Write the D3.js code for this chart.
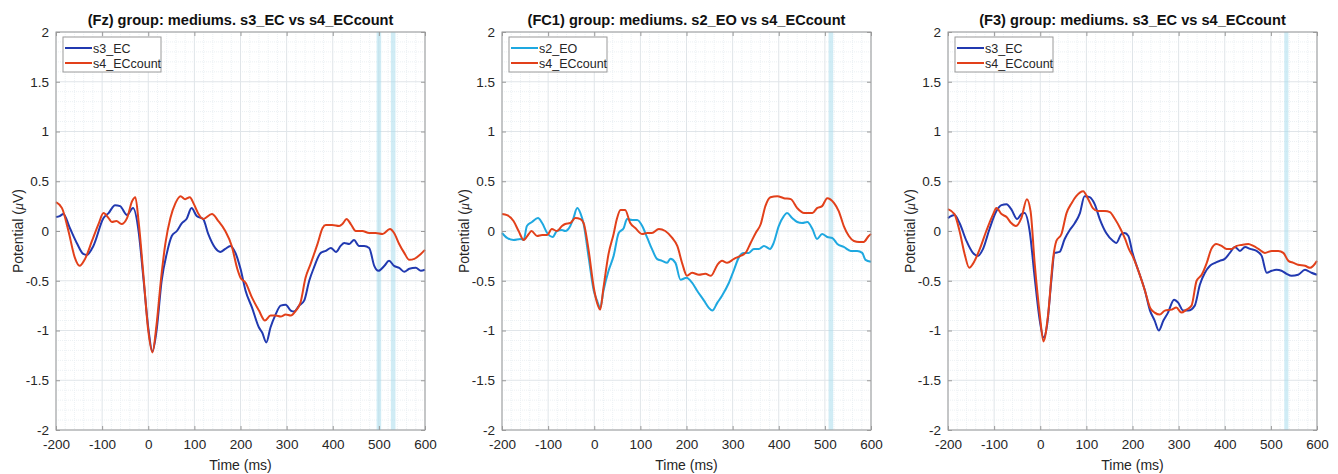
<!DOCTYPE html>
<html>
<head>
<meta charset="utf-8">
<script src="https://cdn.jsdelivr.net/npm/d3@7"></script>
<style>
  body { margin: 0; background: #fff; }
  svg { display: block; font-family: "Liberation Sans", Arial, Helvetica, sans-serif; }
</style>
</head>
<body>
<script>
// time (ms) / potential (uV) pairs
const fzS3EC = [[-200,0.14],[-192,0.15],[-184,0.17],[-170,0.03],[-155,-0.12],[-141,-0.23],[-133,-0.24],[-119,-0.15],[-97,0.13],[-86,0.18],[-72,0.26],[-61,0.25],[-46,0.16],[-33,0.23],[-21,0],[-10,-0.5],[0,-0.97],[9,-1.21],[18,-1.0],[29,-0.5],[40,-0.23],[51,-0.05],[62,0],[73,0.08],[83,0.12],[94,0.23],[105,0.15],[119,0.12],[130,-0.03],[145,-0.17],[156,-0.21],[167,-0.18],[178,-0.15],[189,-0.22],[200,-0.38],[211,-0.6],[225,-0.77],[240,-0.97],[247,-1.02],[256,-1.12],[265,-0.97],[276,-0.84],[287,-0.75],[298,-0.74],[309,-0.8],[316,-0.81],[327,-0.75],[338,-0.7],[349,-0.5],[359,-0.37],[374,-0.22],[385,-0.2],[396,-0.17],[407,-0.21],[417,-0.15],[425,-0.12],[436,-0.13],[446,-0.09],[457,-0.15],[468,-0.15],[479,-0.17],[490,-0.35],[499,-0.4],[512,-0.35],[522,-0.3],[533,-0.35],[544,-0.37],[555,-0.41],[566,-0.38],[580,-0.37],[591,-0.4],[600,-0.39]]
const fzS4ECcount = [[-200,0.29],[-187,0.23],[-173,0],[-159,-0.27],[-149,-0.35],[-137,-0.28],[-122,-0.1],[-107,0.08],[-97,0.18],[-86,0.13],[-79,0.09],[-69,0.1],[-58,0.07],[-46,0.13],[-35,0.3],[-28,0.34],[-21,0.1],[-10,-0.47],[0,-1.0],[9,-1.22],[18,-0.94],[28,-0.47],[37,-0.13],[48,0.13],[59,0.28],[70,0.35],[80,0.32],[90,0.34],[99,0.27],[109,0.17],[119,0.12],[138,0.17],[152,0.1],[167,0],[181,-0.15],[193,-0.38],[200,-0.47],[211,-0.52],[225,-0.67],[240,-0.8],[253,-0.9],[265,-0.85],[276,-0.85],[287,-0.86],[298,-0.84],[309,-0.85],[320,-0.8],[330,-0.72],[341,-0.47],[352,-0.33],[367,-0.13],[378,0.03],[385,0.06],[399,0.06],[414,0.05],[421,0.07],[430,0.12],[439,0.07],[450,0],[464,0],[479,-0.02],[493,-0.02],[508,-0.03],[524,0.02],[533,-0.02],[544,-0.13],[555,-0.22],[566,-0.29],[577,-0.28],[591,-0.23],[600,-0.19]]

const fc1S2EO = [[-200,-0.02],[-189,-0.07],[-175,-0.09],[-160,-0.08],[-153,-0.09],[-146,0.05],[-135,0.09],[-122,0.13],[-113,0.08],[-102,-0.02],[-90,-0.06],[-81,0],[-70,0.01],[-63,0],[-52,0.05],[-45,0.13],[-37,0.23],[-30,0.18],[-23,0.07],[-12,-0.27],[-1,-0.6],[6,-0.7],[13,-0.77],[20,-0.6],[31,-0.4],[42,-0.25],[53,-0.02],[64,0.03],[71,0.12],[82,0.11],[93,0.11],[104,0.05],[115,-0.07],[125,-0.18],[136,-0.28],[147,-0.3],[158,-0.32],[165,-0.28],[176,-0.32],[187,-0.49],[200,-0.47],[212,-0.52],[223,-0.6],[238,-0.7],[248,-0.77],[256,-0.8],[267,-0.72],[277,-0.65],[292,-0.52],[303,-0.39],[314,-0.26],[324,-0.22],[335,-0.22],[346,-0.18],[357,-0.18],[368,-0.15],[381,-0.18],[389,-0.12],[400,0.05],[411,0.15],[418,0.18],[429,0.13],[440,0.09],[451,0.08],[462,0.09],[473,0.02],[483,-0.08],[494,-0.03],[505,-0.06],[516,-0.07],[527,-0.13],[541,-0.16],[556,-0.2],[570,-0.2],[581,-0.22],[588,-0.29],[600,-0.31]]
const fc1S4ECcount = [[-200,0.17],[-189,0.16],[-175,0.1],[-164,0],[-153,-0.09],[-142,-0.03],[-136,0],[-124,-0.05],[-113,-0.04],[-102,-0.04],[-92,0.02],[-81,0],[-70,0.05],[-63,0.07],[-52,0.08],[-41,0.13],[-30,0.12],[-23,0.08],[-12,-0.2],[-1,-0.57],[6,-0.72],[13,-0.79],[20,-0.57],[31,-0.23],[42,-0.03],[49,0.12],[57,0.21],[67,0.21],[78,0.08],[89,0.03],[104,-0.03],[115,-0.02],[125,-0.02],[140,0.02],[154,0],[169,-0.07],[180,-0.15],[191,-0.33],[201,-0.45],[212,-0.42],[227,-0.44],[241,-0.43],[253,-0.45],[267,-0.34],[277,-0.3],[288,-0.32],[303,-0.28],[317,-0.25],[328,-0.22],[339,-0.12],[350,-0.02],[361,0.07],[371,0.25],[382,0.34],[397,0.35],[411,0.33],[426,0.32],[440,0.23],[455,0.18],[473,0.18],[483,0.23],[494,0.25],[505,0.33],[520,0.28],[530,0.2],[541,0.05],[552,-0.05],[563,-0.1],[574,-0.11],[584,-0.11],[595,-0.05],[600,-0.03]]

const f3S3EC = [[-200,0.13],[-186,0.16],[-175,0.08],[-160,-0.1],[-146,-0.22],[-135,-0.25],[-124,-0.18],[-110,0.02],[-95,0.2],[-84,0.26],[-73,0.27],[-63,0.22],[-50,0.12],[-41,0.17],[-34,0.18],[-23,0],[-12,-0.47],[-1,-0.9],[7,-1.07],[15,-0.94],[24,-0.5],[31,-0.22],[42,-0.21],[53,-0.08],[64,0.01],[75,0.08],[86,0.18],[96,0.35],[107,0.34],[118,0.27],[129,0.12],[143,-0.02],[158,-0.1],[165,-0.12],[176,-0.03],[183,-0.02],[191,-0.05],[200,-0.22],[212,-0.39],[227,-0.6],[238,-0.8],[248,-0.9],[257,-1.0],[267,-0.9],[277,-0.82],[290,-0.69],[299,-0.72],[310,-0.8],[321,-0.8],[335,-0.75],[346,-0.54],[357,-0.42],[368,-0.35],[379,-0.32],[389,-0.3],[400,-0.28],[411,-0.22],[422,-0.16],[433,-0.2],[444,-0.16],[455,-0.18],[469,-0.2],[480,-0.25],[491,-0.42],[502,-0.4],[512,-0.39],[523,-0.4],[534,-0.43],[545,-0.45],[559,-0.44],[574,-0.39],[588,-0.42],[600,-0.44]]
const f3S4ECcount = [[-200,0.22],[-186,0.17],[-175,0],[-164,-0.23],[-154,-0.37],[-146,-0.33],[-131,-0.18],[-117,0],[-102,0.17],[-95,0.23],[-84,0.17],[-73,0.14],[-63,0.08],[-53,0.05],[-41,0.13],[-29,0.32],[-21,0.2],[-12,-0.33],[-1,-0.84],[7,-1.11],[17,-0.84],[28,-0.27],[35,-0.1],[46,-0.03],[57,0.18],[68,0.28],[78,0.35],[93,0.4],[104,0.32],[114,0.23],[125,0.2],[140,0.2],[151,0.19],[162,0.12],[173,0.03],[184,-0.08],[192,-0.18],[200,-0.25],[212,-0.39],[227,-0.6],[238,-0.77],[248,-0.82],[259,-0.84],[270,-0.8],[285,-0.79],[295,-0.77],[306,-0.82],[317,-0.79],[328,-0.75],[339,-0.5],[350,-0.44],[361,-0.32],[371,-0.18],[382,-0.13],[393,-0.15],[404,-0.18],[415,-0.18],[426,-0.15],[436,-0.14],[451,-0.13],[462,-0.15],[473,-0.18],[487,-0.22],[502,-0.2],[516,-0.2],[527,-0.22],[538,-0.3],[549,-0.32],[559,-0.34],[574,-0.35],[585,-0.37],[600,-0.3]]

// highlighted time windows (ms)
const fzBands = [[495, 505], [526, 536]]
const fc1Bands = [[508, 518]]
const f3Bands = [[529, 538]]

const xTicks = [-200, -100, 0, 100, 200, 300, 400, 500, 600]
const yTicks = [-2, -1.5, -1, -0.5, 0, 0.5, 1, 1.5, 2]

const blue = '#2139b0'
const red = '#e2401a'
const cyan = '#1ea8e0'

const panels = [
  { left: 56, title: '(Fz) group: mediums. s3_EC vs s4_ECcount', bands: fzBands,
    series: [{ name: 's3_EC', data: fzS3EC, color: blue }, { name: 's4_ECcount', data: fzS4ECcount, color: red }] },
  { left: 502, title: '(FC1) group: mediums. s2_EO vs s4_ECcount', bands: fc1Bands,
    series: [{ name: 's2_EO', data: fc1S2EO, color: cyan }, { name: 's4_ECcount', data: fc1S4ECcount, color: red }] },
  { left: 948, title: '(F3) group: mediums. s3_EC vs s4_ECcount', bands: f3Bands,
    series: [{ name: 's3_EC', data: f3S3EC, color: blue }, { name: 's4_ECcount', data: f3S4ECcount, color: red }] }
]

const svgW = 1338
const svgH = 474
const plotW = 369
const plotTop = 32
const plotH = 398

const svg = d3.select('body').append('svg')
  .attr('width', svgW)
  .attr('height', svgH)

svg.append('rect').attr('width', svgW).attr('height', svgH).attr('fill', '#fff')

const drawPanel = (p) => {
  const x = d3.scaleLinear().domain([-200, 600]).range([0, plotW])
  const y = d3.scaleLinear().domain([-2, 2]).range([plotH, 0])

  const g = svg.append('g').attr('transform', `translate(${p.left},${plotTop})`)

  // minor grid
  g.append('g').selectAll('line')
    .data(d3.range(-200, 601, 20).filter(v => v % 100 !== 0))
    .join('line')
    .attr('x1', d => x(d)).attr('x2', d => x(d))
    .attr('y1', 0).attr('y2', plotH)
    .attr('stroke', '#ecf1f4').attr('stroke-dasharray', '1,1')
  g.append('g').selectAll('line')
    .data(d3.range(-20, 21, 1).map(v => v / 10).filter(v => Math.abs(v * 2 - Math.round(v * 2)) > 1e-6))
    .join('line')
    .attr('x1', 0).attr('x2', plotW)
    .attr('y1', d => y(d)).attr('y2', d => y(d))
    .attr('stroke', '#ecf1f4').attr('stroke-dasharray', '1,1')

  // major grid
  g.append('g').selectAll('line')
    .data(xTicks)
    .join('line')
    .attr('x1', d => x(d)).attr('x2', d => x(d))
    .attr('y1', 0).attr('y2', plotH)
    .attr('stroke', '#e0e5e9')
  g.append('g').selectAll('line')
    .data(yTicks)
    .join('line')
    .attr('x1', 0).attr('x2', plotW)
    .attr('y1', d => y(d)).attr('y2', d => y(d))
    .attr('stroke', '#e0e5e9')

  // significance bands
  g.append('g').selectAll('rect')
    .data(p.bands)
    .join('rect')
    .attr('x', d => x(d[0]))
    .attr('width', d => x(d[1]) - x(d[0]))
    .attr('y', 0)
    .attr('height', plotH)
    .attr('fill', '#a9dcec')
    .attr('opacity', 0.55)

  // lines
  const line = d3.line()
    .x(d => x(d[0]))
    .y(d => y(d[1]))
    .curve(d3.curveMonotoneX)

  p.series.forEach(s => {
    g.append('path')
      .datum(s.data)
      .attr('d', line)
      .attr('fill', 'none')
      .attr('stroke', s.color)
      .attr('stroke-width', 2)
      .attr('stroke-linejoin', 'round')
  })

  // axes (box with inward ticks on all sides)
  const axisColor = '#9a9a9a'
  const styleAxis = (sel, labels) => {
    sel.select('.domain').remove()
    sel.selectAll('.tick line').attr('stroke', axisColor)
    sel.selectAll('.tick text')
      .attr('fill', labels ? '#262626' : 'none')
      .style('font-size', '13.5px')
      .style('font-family', '"Liberation Sans", Arial, sans-serif')
  }
  g.append('g').attr('transform', `translate(0,${plotH})`)
    .call(d3.axisBottom(x).tickValues(xTicks).tickSize(-4).tickPadding(9).tickFormat(d => String(d)))
    .call(sel => styleAxis(sel, true))
  g.append('g')
    .call(d3.axisTop(x).tickValues(xTicks).tickSize(-4).tickFormat(''))
    .call(sel => styleAxis(sel, false))
  g.append('g')
    .call(d3.axisLeft(y).tickValues(yTicks).tickSize(-4).tickPadding(7).tickFormat(d => String(d)))
    .call(sel => styleAxis(sel, true))
  g.append('g').attr('transform', `translate(${plotW},0)`)
    .call(d3.axisRight(y).tickValues(yTicks).tickSize(-4).tickFormat(''))
    .call(sel => styleAxis(sel, false))

  g.append('rect')
    .attr('width', plotW).attr('height', plotH)
    .attr('fill', 'none').attr('stroke', axisColor)

  // legend
  const lg = g.append('g').attr('transform', 'translate(7,5)')
  lg.append('rect')
    .attr('width', 98).attr('height', 35)
    .attr('fill', '#fff').attr('stroke', axisColor)
  p.series.forEach((s, i) => {
    const yy = 11 + i * 15
    lg.append('line')
      .attr('x1', 2).attr('x2', 29).attr('y1', yy).attr('y2', yy)
      .attr('stroke', s.color).attr('stroke-width', 2)
    lg.append('text')
      .attr('x', 30).attr('y', yy + 4.5)
      .attr('fill', '#262626')
      .style('font-size', '12.5px')
      .text(s.name)
  })

  // title
  g.append('text')
    .attr('x', plotW / 2).attr('y', -7)
    .attr('text-anchor', 'middle')
    .attr('fill', '#111')
    .style('font-size', '14.6px')
    .style('font-weight', 'bold')
    .text(p.title)

  // axis labels
  g.append('text')
    .attr('x', plotW / 2).attr('y', plotH + 40)
    .attr('text-anchor', 'middle')
    .attr('fill', '#262626')
    .style('font-size', '14px')
    .text('Time (ms)')

  const yl = g.append('text')
    .attr('transform', `translate(-33,${plotH / 2}) rotate(-90)`)
    .attr('text-anchor', 'middle')
    .attr('fill', '#262626')
    .style('font-size', '14px')
  yl.append('tspan').text('Potential (')
  yl.append('tspan').style('font-style', 'italic').style('font-family', '"Liberation Serif", "Times New Roman", serif').text('μ')
  yl.append('tspan').text('V)')
}

panels.forEach(drawPanel)
</script>
</body>
</html>
